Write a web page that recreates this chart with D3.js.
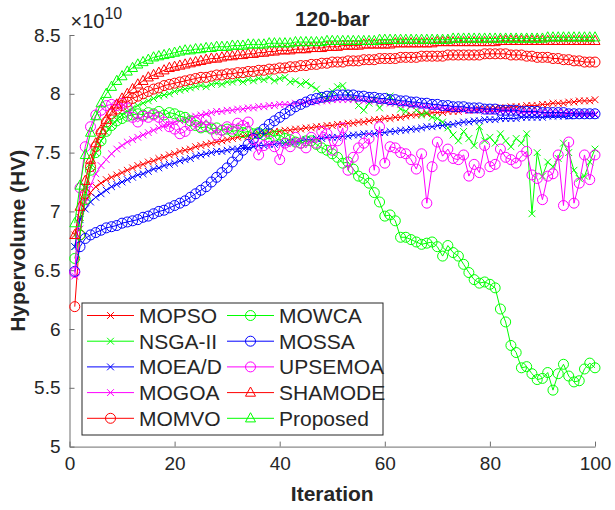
<!DOCTYPE html>
<html>
<head>
<meta charset="utf-8">
<script src="https://cdn.jsdelivr.net/npm/d3@7"></script>
<style>
  body { margin: 0; background: #fff; }
  text { font-family: "Liberation Sans", Arial, sans-serif; fill: #262626; }
</style>
</head>
<body>
<div id="chart"></div>
<script>
// hypervolume per iteration (x 1e10), iterations 1..100
const iterations = d3.range(1, 101);

const MOPSO = [6.80,6.95,7.08,7.16,7.21,7.24,7.27,7.29,7.31,7.33,
  7.35,7.37,7.39,7.40,7.42,7.43,7.45,7.46,7.48,7.49,
  7.51,7.52,7.53,7.55,7.56,7.57,7.58,7.59,7.60,7.61,
  7.62,7.63,7.64,7.64,7.65,7.66,7.66,7.67,7.68,7.68,
  7.69,7.69,7.70,7.70,7.71,7.71,7.72,7.72,7.73,7.73,
  7.74,7.74,7.75,7.75,7.76,7.76,7.77,7.78,7.78,7.79,
  7.79,7.80,7.80,7.81,7.82,7.82,7.83,7.83,7.84,7.84,
  7.84,7.85,7.85,7.85,7.86,7.86,7.86,7.87,7.87,7.87,
  7.88,7.88,7.88,7.89,7.89,7.89,7.90,7.90,7.90,7.91,
  7.91,7.92,7.92,7.92,7.93,7.93,7.94,7.94,7.94,7.95];

const NSGA2 = [6.70,6.95,7.20,7.38,7.50,7.60,7.67,7.73,7.78,7.82,
  7.85,7.88,7.90,7.92,7.94,7.96,7.98,7.99,8.00,8.02,
  8.03,8.04,8.05,8.06,8.07,8.06,8.08,8.09,8.08,8.10,
  8.10,8.12,8.10,8.12,8.11,8.13,8.12,8.14,8.11,8.13,
  8.14,8.10,8.11,8.08,8.10,8.07,8.04,7.99,7.95,8.02,
  8.06,8.07,8.00,7.96,7.90,7.86,7.92,7.95,7.88,7.93,
  7.98,7.92,7.87,7.85,7.90,7.86,7.82,7.84,7.80,7.79,
  7.76,7.71,7.65,7.60,7.68,7.62,7.56,7.72,7.60,7.63,
  7.58,7.66,7.60,7.55,7.62,7.58,7.66,6.98,7.50,7.30,
  7.42,7.38,7.45,7.58,7.50,7.35,7.28,7.30,7.42,7.53];

const MOEAD = [6.70,6.93,7.02,7.08,7.12,7.15,7.18,7.21,7.23,7.25,
  7.27,7.29,7.31,7.32,7.34,7.36,7.37,7.39,7.40,7.41,
  7.43,7.44,7.45,7.47,7.48,7.49,7.50,7.51,7.51,7.52,
  7.53,7.53,7.54,7.54,7.55,7.56,7.56,7.57,7.57,7.58,
  7.58,7.59,7.59,7.60,7.61,7.61,7.62,7.62,7.63,7.63,
  7.63,7.64,7.64,7.65,7.65,7.66,7.66,7.66,7.67,7.67,
  7.68,7.68,7.69,7.69,7.70,7.70,7.71,7.72,7.72,7.73,
  7.73,7.74,7.74,7.75,7.76,7.76,7.77,7.77,7.78,7.78,
  7.78,7.79,7.79,7.79,7.79,7.80,7.80,7.80,7.80,7.80,
  7.81,7.81,7.81,7.81,7.81,7.82,7.82,7.82,7.82,7.82];

const MOGOA = [6.45,6.85,7.08,7.22,7.32,7.39,7.44,7.49,7.53,7.56,
  7.59,7.61,7.63,7.65,7.67,7.69,7.71,7.73,7.74,7.76,
  7.77,7.78,7.80,7.81,7.82,7.83,7.84,7.85,7.85,7.86,
  7.86,7.87,7.87,7.88,7.88,7.89,7.89,7.90,7.90,7.91,
  7.91,7.91,7.92,7.92,7.93,7.93,7.93,7.94,7.94,7.95,
  7.95,7.95,7.95,7.95,7.95,7.94,7.94,7.94,7.93,7.93,
  7.92,7.92,7.91,7.91,7.90,7.90,7.89,7.89,7.88,7.88,
  7.88,7.87,7.87,7.87,7.86,7.86,7.86,7.86,7.85,7.85,
  7.85,7.85,7.85,7.85,7.85,7.84,7.84,7.84,7.84,7.84,
  7.84,7.84,7.84,7.84,7.84,7.84,7.83,7.83,7.83,7.83];

const MOMVO = [6.19,6.80,7.15,7.38,7.55,7.67,7.76,7.83,7.87,7.90,
  7.93,7.96,7.98,8.00,8.02,8.04,8.05,8.07,8.08,8.09,
  8.10,8.11,8.12,8.13,8.14,8.14,8.15,8.16,8.16,8.17,
  8.17,8.18,8.18,8.19,8.19,8.20,8.20,8.21,8.21,8.22,
  8.22,8.23,8.23,8.24,8.24,8.25,8.25,8.26,8.26,8.27,
  8.27,8.27,8.28,8.28,8.28,8.29,8.29,8.29,8.30,8.30,
  8.30,8.30,8.31,8.31,8.31,8.31,8.32,8.32,8.32,8.32,
  8.32,8.33,8.33,8.33,8.33,8.33,8.33,8.33,8.34,8.34,
  8.34,8.34,8.34,8.33,8.33,8.33,8.32,8.32,8.31,8.31,
  8.31,8.30,8.30,8.29,8.29,8.28,8.28,8.27,8.27,8.27];

const MOWCA = [6.60,6.80,7.10,7.35,7.50,7.60,7.68,7.73,7.77,7.79,
  7.81,7.82,7.83,7.82,7.84,7.83,7.85,7.82,7.84,7.83,
  7.81,7.80,7.77,7.73,7.71,7.72,7.70,7.71,7.69,7.70,
  7.68,7.69,7.67,7.68,7.66,7.67,7.65,7.66,7.64,7.65,
  7.62,7.61,7.59,7.58,7.60,7.60,7.57,7.54,7.52,7.49,
  7.46,7.41,7.42,7.36,7.30,7.28,7.24,7.16,7.08,6.96,
  6.97,6.92,6.78,6.78,6.76,6.74,6.72,6.73,6.74,6.70,
  6.62,6.71,6.65,6.62,6.55,6.48,6.42,6.39,6.40,6.38,
  6.35,6.17,6.06,5.86,5.80,5.67,5.68,5.62,5.57,5.58,
  5.63,5.48,5.62,5.70,5.60,5.55,5.56,5.66,5.71,5.67];

const MOSSA = [6.49,6.70,6.77,6.80,6.82,6.84,6.86,6.87,6.88,6.90,
  6.91,6.92,6.93,6.95,6.96,6.98,7.00,7.01,7.03,7.05,
  7.07,7.09,7.12,7.15,7.18,7.21,7.25,7.29,7.33,7.37,
  7.42,7.47,7.52,7.57,7.62,7.66,7.70,7.74,7.77,7.80,
  7.83,7.86,7.89,7.91,7.93,7.95,7.96,7.97,7.98,7.98,
  7.99,7.99,7.99,7.99,7.98,7.98,7.97,7.97,7.96,7.96,
  7.95,7.95,7.94,7.94,7.93,7.93,7.92,7.92,7.91,7.91,
  7.90,7.90,7.89,7.89,7.89,7.88,7.88,7.88,7.87,7.87,
  7.87,7.86,7.86,7.86,7.86,7.85,7.85,7.85,7.85,7.84,
  7.84,7.84,7.84,7.84,7.83,7.83,7.83,7.83,7.83,7.83];

const UPSEMOA = [6.48,7.20,7.55,7.72,7.82,7.86,7.90,7.91,7.90,7.92,
  7.88,7.80,7.76,7.81,7.80,7.82,7.80,7.76,7.72,7.70,
  7.66,7.68,7.73,7.76,7.72,7.78,7.71,7.65,7.69,7.72,
  7.70,7.75,7.73,7.76,7.61,7.48,7.56,7.60,7.55,7.44,
  7.58,7.55,7.63,7.58,7.54,7.63,7.58,7.68,7.66,7.52,
  7.60,7.71,7.35,7.46,7.54,7.58,7.62,7.35,7.72,7.41,
  7.55,7.54,7.50,7.49,7.44,7.36,7.49,7.07,7.38,7.59,
  7.47,7.53,7.45,7.44,7.48,7.30,7.40,7.33,7.56,7.38,
  7.40,7.53,7.46,7.44,7.41,7.47,7.51,7.31,7.28,7.10,
  7.30,7.32,7.48,7.05,7.59,7.07,7.24,7.48,7.27,7.48];

const SHAMODE = [6.80,7.04,7.26,7.44,7.58,7.69,7.78,7.85,7.91,7.96,
  8.00,8.04,8.08,8.11,8.14,8.16,8.18,8.20,8.22,8.23,
  8.24,8.25,8.26,8.27,8.28,8.29,8.30,8.30,8.31,8.32,
  8.32,8.33,8.33,8.34,8.34,8.35,8.35,8.36,8.36,8.37,
  8.37,8.37,8.38,8.38,8.38,8.39,8.39,8.39,8.40,8.40,
  8.40,8.41,8.41,8.41,8.41,8.42,8.42,8.42,8.42,8.42,
  8.42,8.43,8.43,8.43,8.43,8.43,8.43,8.43,8.43,8.44,
  8.44,8.44,8.44,8.44,8.44,8.44,8.44,8.44,8.44,8.44,
  8.44,8.45,8.45,8.45,8.45,8.45,8.45,8.45,8.45,8.45,
  8.45,8.45,8.45,8.45,8.45,8.45,8.45,8.45,8.45,8.45];

const Proposed = [6.90,7.22,7.48,7.67,7.81,7.92,8.00,8.06,8.11,8.15,
  8.19,8.22,8.25,8.27,8.29,8.31,8.32,8.33,8.34,8.35,
  8.36,8.37,8.37,8.38,8.38,8.39,8.39,8.40,8.40,8.40,
  8.41,8.41,8.41,8.42,8.42,8.42,8.42,8.43,8.43,8.43,
  8.43,8.43,8.44,8.44,8.44,8.44,8.44,8.44,8.45,8.45,
  8.45,8.45,8.45,8.45,8.45,8.45,8.45,8.45,8.46,8.46,
  8.46,8.46,8.46,8.46,8.46,8.46,8.46,8.46,8.46,8.46,
  8.46,8.46,8.47,8.47,8.47,8.47,8.47,8.47,8.47,8.47,
  8.47,8.47,8.47,8.47,8.47,8.47,8.47,8.47,8.47,8.47,
  8.48,8.48,8.48,8.48,8.48,8.48,8.48,8.48,8.48,8.48];

const seriesNames = ["MOPSO","NSGA-II","MOEA/D","MOGOA","MOMVO","MOWCA","MOSSA","UPSEMOA","SHAMODE","Proposed"];
const seriesValues = [MOPSO, NSGA2, MOEAD, MOGOA, MOMVO, MOWCA, MOSSA, UPSEMOA, SHAMODE, Proposed];
const seriesColors = ["#ff0000","#00ff00","#0000ff","#ff00ff","#ff0000","#00ff00","#0000ff","#ff00ff","#ff0000","#00ff00"];
const seriesMarkers = ["x","x","x","x","o","o","o","o","^","^"];

const xTicks = [0, 20, 40, 60, 80, 100];
const yTicks = [5, 5.5, 6, 6.5, 7, 7.5, 8, 8.5];

const W = 615, H = 510;
const margin = { top: 35, right: 20, bottom: 63.4, left: 69.5 };

const svg = d3.select("#chart").append("svg")
  .attr("width", W).attr("height", H);

const x = d3.scaleLinear().domain([0, 100]).range([margin.left, W - margin.right]);
const y = d3.scaleLinear().domain([5, 8.5]).range([H - margin.bottom, margin.top]);

// axes (box off, ticks pointing inward)
const axisColor = "#6e6e6e";
const gx = svg.append("g")
  .attr("transform", `translate(0,${y(5)})`)
  .call(d3.axisBottom(x).tickValues(xTicks).tickSizeInner(-5).tickSizeOuter(0).tickPadding(10));
const gy = svg.append("g")
  .attr("transform", `translate(${x(0)},0)`)
  .call(d3.axisLeft(y).tickValues(yTicks).tickFormat(d => d).tickSizeInner(-5).tickSizeOuter(0).tickPadding(9));
[gx, gy].forEach(g => {
  g.select(".domain").attr("stroke", axisColor).attr("stroke-width", 1);
  g.selectAll(".tick line").attr("stroke", axisColor);
  g.selectAll(".tick text").attr("font-size", 19).attr("fill", "#262626")
    .style("font-family", "'Liberation Sans', Arial, sans-serif");
});
gx.selectAll(".tick text").attr("dy", "0.71em");

// exponent
const expo = svg.append("text").attr("x", x(0) + 1).attr("y", 28).attr("font-size", 20);
expo.append("tspan").text("\u00d710");
expo.append("tspan").attr("dy", -9).attr("font-size", 16).text("10");

// title and labels
svg.append("text").attr("x", (x(0) + x(100)) / 2).attr("y", 26)
  .attr("text-anchor", "middle").attr("font-size", 21).attr("font-weight", "bold")
  .attr("fill", "#000").text("120-bar");
svg.append("text").attr("x", (x(0) + x(100)) / 2).attr("y", 501)
  .attr("text-anchor", "middle").attr("font-size", 21).attr("font-weight", "bold")
  .text("Iteration");
svg.append("text")
  .attr("transform", `translate(25,${(y(5) + y(8.5)) / 2}) rotate(-90)`)
  .attr("text-anchor", "middle").attr("font-size", 21).attr("font-weight", "bold")
  .text("Hypervolume (HV)");

function drawMarker(g, type, color) {
  if (type === "x") {
    g.append("path").attr("d", "M-3.4,-3.4L3.4,3.4M-3.4,3.4L3.4,-3.4")
      .attr("stroke", color).attr("stroke-width", 1).attr("fill", "none");
  } else if (type === "o") {
    g.append("circle").attr("r", 5)
      .attr("stroke", color).attr("stroke-width", 1).attr("fill", "none");
  } else {
    g.append("path").attr("d", "M0,-5.6L5,3.6L-5,3.6Z")
      .attr("stroke", color).attr("stroke-width", 1).attr("fill", "none");
  }
}

// series
const line = d3.line().x((d, i) => x(iterations[i])).y(d => y(d));
seriesValues.forEach((vals, k) => {
  const g = svg.append("g");
  g.append("path").datum(vals)
    .attr("d", line).attr("fill", "none")
    .attr("stroke", seriesColors[k]).attr("stroke-width", 1);
  vals.forEach((v, i) => {
    const m = g.append("g").attr("transform", `translate(${x(iterations[i])},${y(v)})`);
    drawMarker(m, seriesMarkers[k], seriesColors[k]);
  });
});

// legend
const leg = svg.append("g");
leg.append("rect").attr("x", 82).attr("y", 303).attr("width", 301).attr("height", 132)
  .attr("fill", "#fff").attr("stroke", "#262626").attr("stroke-width", 1);
const rowH = 25.7;
seriesNames.forEach((name, k) => {
  const col = Math.floor(k / 5), row = k % 5;
  const x0 = col === 0 ? 87 : 227;
  const yy = 315.5 + row * rowH;
  leg.append("line").attr("x1", x0).attr("x2", x0 + 47).attr("y1", yy).attr("y2", yy)
    .attr("stroke", seriesColors[k]).attr("stroke-width", 1);
  const m = leg.append("g").attr("transform", `translate(${x0 + 23.5},${yy})`);
  drawMarker(m, seriesMarkers[k], seriesColors[k]);
  leg.append("text").attr("x", x0 + 52).attr("y", yy).attr("dy", "0.36em")
    .attr("font-size", 21).attr("fill", "#000").text(name);
});
</script>
</body>
</html>
